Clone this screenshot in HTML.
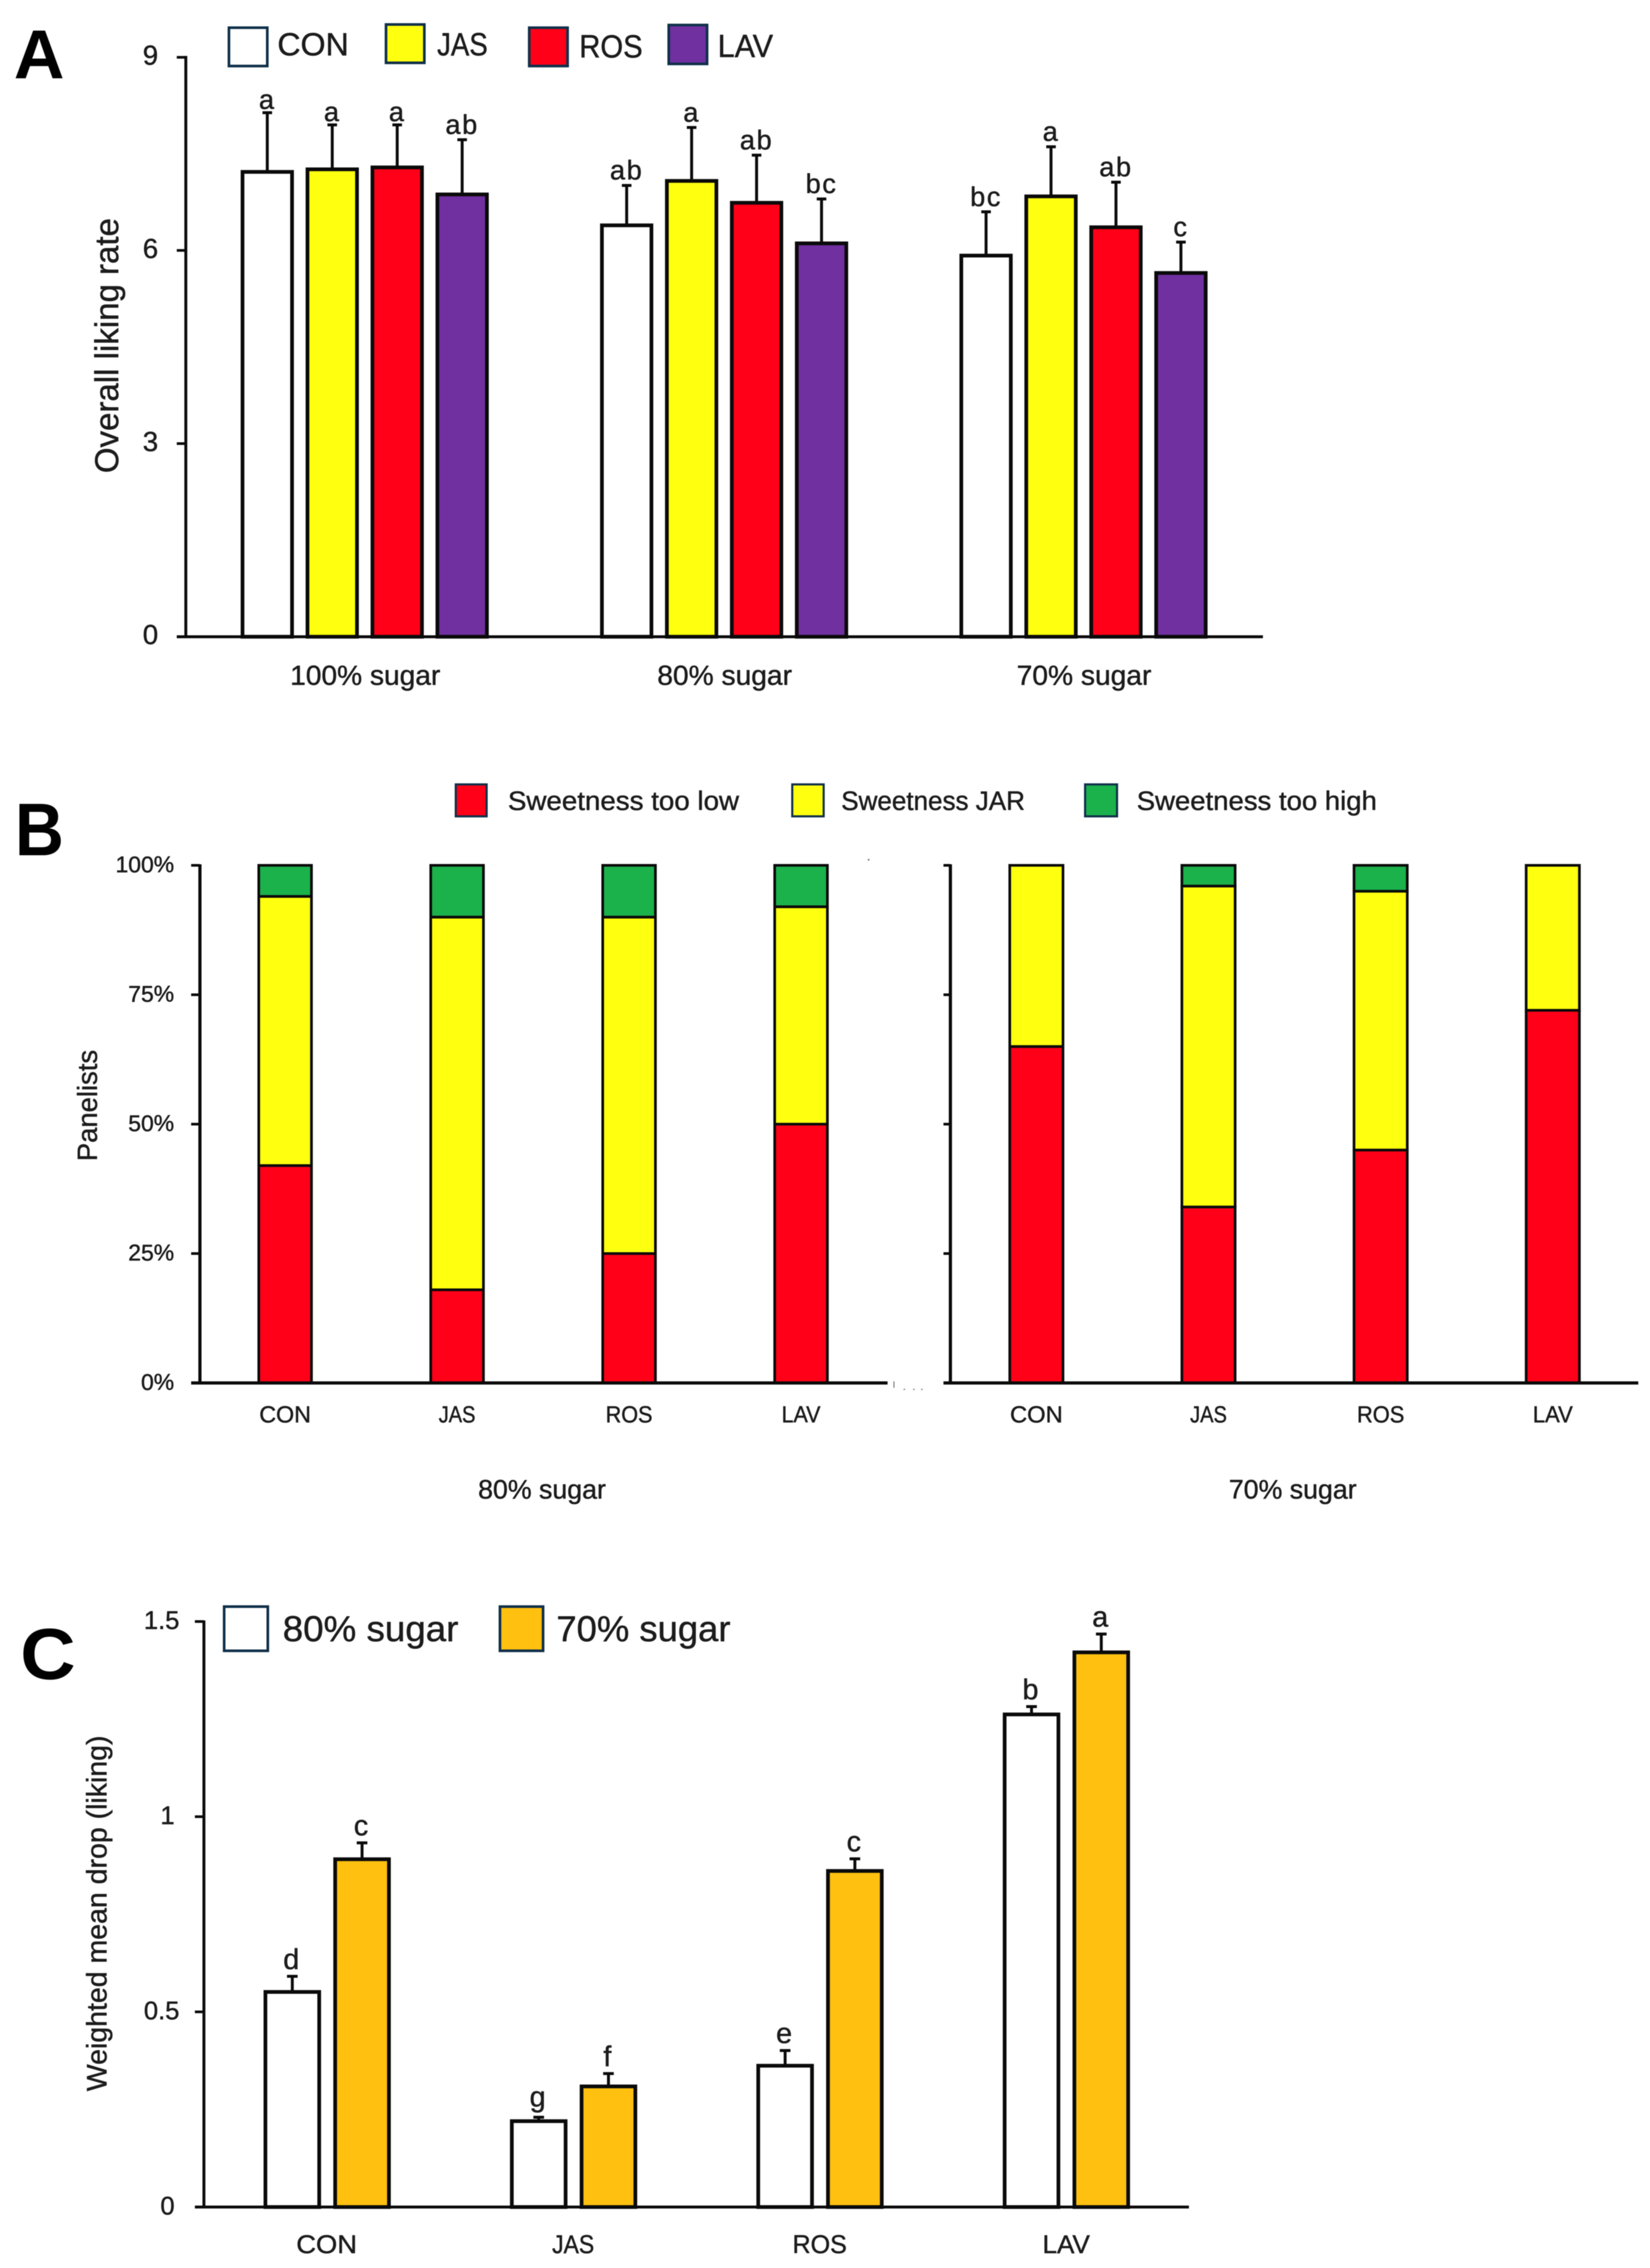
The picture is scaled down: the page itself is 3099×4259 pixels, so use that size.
<!DOCTYPE html>
<html lang="en">
<head>
<meta charset="utf-8">
<title>Sensory liking, sweetness and mean drop charts</title>
<style>
  html, body { margin: 0; padding: 0; background: #fff; }
  body { width: 3099px; height: 4259px; overflow: hidden; }
  svg { display: block; filter: blur(0.7px); }
  text { font-family: "Liberation Sans", sans-serif; fill: #1c1c1c; stroke: #1c1c1c; stroke-width: 0.8px; }
</style>
</head>
<body>
<svg id="figure" xmlns="http://www.w3.org/2000/svg" width="3099" height="4259" viewBox="0 0 3099 4259">
  <rect width="3099" height="4259" fill="#ffffff"/>

  <!-- Panel letters -->
  <text x="26" y="147" font-size="130" font-weight="700" textLength="95" lengthAdjust="spacingAndGlyphs" style="fill:#000;stroke:none">A</text>
  <text x="28" y="1606" font-size="140" font-weight="700" textLength="92" lengthAdjust="spacingAndGlyphs" style="fill:#000;stroke:none">B</text>
  <text x="38" y="3153" font-size="136" font-weight="700" textLength="104" lengthAdjust="spacingAndGlyphs" style="fill:#000;stroke:none">C</text>

  <!-- Panel A legend -->
  <g>
    <rect x="430" y="52" width="72" height="72" fill="#ffffff" stroke="#10304a" stroke-width="5"/>
    <text x="521" y="104" font-size="60" textLength="134" lengthAdjust="spacingAndGlyphs">CON</text>
    <rect x="725" y="46" width="72" height="72" fill="#ffff10" stroke="#10304a" stroke-width="5"/>
    <text x="821" y="104" font-size="60" textLength="95" lengthAdjust="spacingAndGlyphs">JAS</text>
    <rect x="994" y="52" width="72" height="72" fill="#ff0018" stroke="#10304a" stroke-width="5"/>
    <text x="1088" y="108" font-size="60" textLength="119" lengthAdjust="spacingAndGlyphs">ROS</text>
    <rect x="1256" y="47" width="72" height="73" fill="#7030a0" stroke="#10304a" stroke-width="5"/>
    <text x="1348" y="107" font-size="60" textLength="104" lengthAdjust="spacingAndGlyphs">LAV</text>
  </g>

  <!-- Panel B legend -->
  <g>
    <rect x="856" y="1473" width="58" height="60" fill="#ff0018" stroke="#10304a" stroke-width="4"/>
    <text x="954" y="1521" font-size="50" textLength="434" lengthAdjust="spacingAndGlyphs">Sweetness too low</text>
    <rect x="1488" y="1473" width="59" height="60" fill="#ffff10" stroke="#10304a" stroke-width="4"/>
    <text x="1580" y="1521" font-size="50" textLength="345" lengthAdjust="spacingAndGlyphs">Sweetness JAR</text>
    <rect x="2038" y="1473" width="60" height="60" fill="#1bb14b" stroke="#10304a" stroke-width="4"/>
    <text x="2135" y="1521" font-size="50" textLength="451" lengthAdjust="spacingAndGlyphs">Sweetness too high</text>
  </g>

  <!-- Panel C legend -->
  <g>
    <rect x="421" y="3017" width="82" height="83" fill="#ffffff" stroke="#10304a" stroke-width="5"/>
    <text x="531" y="3082" font-size="68" textLength="330" lengthAdjust="spacingAndGlyphs">80% sugar</text>
    <rect x="939" y="3017" width="81" height="83" fill="#ffc010" stroke="#10304a" stroke-width="5"/>
    <text x="1045" y="3082" font-size="68" textLength="327" lengthAdjust="spacingAndGlyphs">70% sugar</text>
  </g>

  <!-- Axis titles -->
  <text transform="translate(222 649) rotate(-90)" text-anchor="middle" font-size="62" textLength="479" lengthAdjust="spacingAndGlyphs">Overall liking rate</text>
  <text transform="translate(182 2076) rotate(-90)" text-anchor="middle" font-size="52" textLength="209" lengthAdjust="spacingAndGlyphs">Panelists</text>
  <text transform="translate(200 3593) rotate(-90)" text-anchor="middle" font-size="53" textLength="668" lengthAdjust="spacingAndGlyphs">Weighted mean drop (liking)</text>
  <text x="898" y="2814" font-size="50" textLength="240" lengthAdjust="spacingAndGlyphs">80% sugar</text>
  <text x="2308" y="2814" font-size="50" textLength="240" lengthAdjust="spacingAndGlyphs">70% sugar</text>

  <!-- Small scan specks -->
  <g fill="#777777">
    <rect x="1630" y="1613" width="3" height="3"/>
    <rect x="1678" y="2594" width="2" height="12"/>
    <rect x="1697" y="2608" width="3" height="2"/>
    <rect x="1715" y="2608" width="3" height="2"/>
    <rect x="1730" y="2608" width="3" height="2"/>
  </g>

  <g id="panel-a"></g>
  <g id="panel-b"></g>
  <g id="panel-c"></g>
</svg>

<script>
// ---- Panel A data ----
const groupsA = ['100% sugar', '80% sugar', '70% sugar'];
const seriesA = ['CON', 'JAS', 'ROS', 'LAV'];
const meansCon = [7.22, 6.39, 5.92];
const meansJas = [7.26, 7.08, 6.84];
const meansRos = [7.29, 6.74, 6.36];
const meansLav = [6.87, 6.11, 5.65];
const errCon = [0.92, 0.62, 0.68];
const errJas = [0.69, 0.83, 0.77];
const errRos = [0.66, 0.74, 0.70];
const errLav = [0.85, 0.69, 0.48];
const lettersCon = ['a', 'ab', 'bc'];
const lettersJas = ['a', 'a', 'a'];
const lettersRos = ['a', 'ab', 'ab'];
const lettersLav = ['ab', 'bc', 'c'];
const ticksA = [0, 3, 6, 9];

// ---- Panel B data ----
const categoriesB = ['CON', 'JAS', 'ROS', 'LAV'];
const low80 = [42, 18, 25, 50];
const jar80 = [52, 72, 65, 42];
const high80 = [6, 10, 10, 8];
const low70 = [65, 34, 45, 72];
const jar70 = [35, 62, 50, 28];
const high70 = [0, 4, 5, 0];
const ticksB = [0, 25, 50, 75, 100];

// ---- Panel C data ----
const categoriesC = ['CON', 'JAS', 'ROS', 'LAV'];
const drop80 = [0.551, 0.22, 0.362, 1.262];
const drop70 = [0.891, 0.309, 0.861, 1.421];
const dropErr80 = [0.04, 0.01, 0.039, 0.02];
const dropErr70 = [0.042, 0.033, 0.031, 0.047];
const letters80 = ['d', 'g', 'e', 'b'];
const letters70 = ['c', 'f', 'c', 'a'];
const ticksC = [0, 0.5, 1, 1.5];

const NS = 'http://www.w3.org/2000/svg';
function mk(parent, tag, attrs, txt) {
  const el = document.createElementNS(NS, tag);
  for (const k in attrs) el.setAttribute(k, attrs[k]);
  if (txt !== undefined) el.textContent = txt;
  parent.appendChild(el);
  return el;
}
function line(parent, x1, y1, x2, y2, w, name) {
  const el = mk(parent, 'line', { x1: x1, y1: y1, x2: x2, y2: y2, stroke: '#0a0a0a', 'stroke-width': w });
  
  
  return el;
}
function label(parent, x, y, size, anchor, txt, name, len) {
  const attrs = { x: x, y: y, 'font-size': size, 'text-anchor': anchor };
  if (len) { attrs.textLength = len; attrs.lengthAdjust = 'spacingAndGlyphs'; }
  const el = mk(parent, 'text', attrs, txt);
  
  
  return el;
}
function bar(parent, cx, w, top, bottom, fill, sw, name) {
  const el = mk(parent, 'rect', {
    x: cx - w / 2 + sw / 2, y: top, width: w - sw, height: bottom - top,
    fill: fill, stroke: '#0a0a0a', 'stroke-width': sw
  });
  
  
  return el;
}
function slug(s) { return String(s).toLowerCase().replace(/[^a-z0-9]+/g, '-'); }

// ---- Panel A ----
(function () {
  const g = document.getElementById('panel-a');
  const y = function (v) { return 1195.7 - v * 120.9; };
  const x = function (gi, si) { return 502 + gi * 675 + si * 122; };
  const fills = ['#ffffff', '#ffff10', '#ff0018', '#7030a0'];
  const means = [meansCon, meansJas, meansRos, meansLav];
  const errs = [errCon, errJas, errRos, errLav];
  const letters = [lettersCon, lettersJas, lettersRos, lettersLav];

  groupsA.forEach(function (group, gi) {
    seriesA.forEach(function (s, si) {
      const cx = x(gi, si);
      const top = y(means[si][gi]);
      const errTop = y(means[si][gi] + errs[si][gi]);
      const base = slug(group) + '-' + slug(s);
      line(g, cx, top, cx, errTop, 5.5, 'error-bar-' + base);
      line(g, cx - 9, errTop, cx + 9, errTop, 5.5, 'error-cap-' + base);
      bar(g, cx, 100, top, y(0), fills[si], 7, 'bar-' + base);
      const gap = (gi === 0 && si < 3) ? 7 : 11;
      const t = label(g, cx, errTop - gap, 51, 'middle', letters[si][gi], 'significance-' + base);
      t.setAttribute('letter-spacing', '3');
    });
    label(g, 686 + gi * 675, 1286, 52, 'middle', group, 'x-label-' + slug(group), gi === 0 ? 282 : 253);
  });
  line(g, 349, 105, 349, 1198, 5.5, 'y-axis-a');
  line(g, 332, y(0), 2372, y(0), 5.5, 'x-axis-a');
  ticksA.forEach(function (t) {
    line(g, 332, y(t), 349, y(t), 5, 'y-tick-a-' + t);
    label(g, 297, y(t) + 14, 52, 'end', String(t), 'y-tick-label-a-' + t);
  });
})();

// ---- Panel B ----
(function () {
  const g = document.getElementById('panel-b');
  const y = function (v) { return 2597 - v * 9.72; };
  const colors = ['#ff0018', '#ffff10', '#1bb14b'];
  const names = ['too-low', 'jar', 'too-high'];
  const leftW = [97, 69, 88, 73];
  const rightW = [99, 69, 89, 75];

  function stacks(x, low, jar, high, w, widths, tag) {
    categoriesB.forEach(function (c, i) {
      const cx = x(i);
      const parts = [low[i], jar[i], high[i]];
      let acc = 0;
      parts.forEach(function (p, k) {
        if (p <= 0) return;
        bar(g, cx, w, y(acc + p), y(acc), colors[k], 5, 'segment-' + tag + '-' + slug(c) + '-' + names[k]);
        acc += p;
      });
      label(g, cx, 2671, 44, 'middle', c, 'x-label-' + tag + '-' + slug(c), widths[i]);
    });
  }
  stacks(function (i) { return 535.5 + i * 323; }, low80, jar80, high80, 104, leftW, '80');
  stacks(function (i) { return 1946.5 + i * 323.3; }, low70, jar70, high70, 105, rightW, '70');

  line(g, 375.5, 1623, 375.5, 2600, 6, 'y-axis-b-left');
  line(g, 359, y(0), 1667, y(0), 6, 'x-axis-b-left');
  line(g, 1785, 1623, 1785, 2600, 6, 'y-axis-b-right');
  line(g, 1772, y(0), 3077, y(0), 6, 'x-axis-b-right');
  ticksB.forEach(function (t) {
    line(g, 359, y(t), 375, y(t), 5, 'y-tick-b-left-' + t);
    line(g, 1772, y(t), 1785, y(t), 5, 'y-tick-b-right-' + t);
    label(g, 327, y(t) + 13, 43, 'end', t + '%', 'y-tick-label-b-' + t);
  });
})();

// ---- Panel C ----
(function () {
  const g = document.getElementById('panel-c');
  const y = function (v) { return 4144.5 - v * 733; };
  const x = function (i, k) { return 614.5 + i * 462.8 + (k === 0 ? -65.5 : 65.5); };
  const widths = [114, 79, 102, 89];
  const fills = ['#ffffff', '#ffc010'];
  const vals = [drop80, drop70];
  const errs = [dropErr80, dropErr70];
  const lets = [letters80, letters70];
  const tags = ['80', '70'];

  categoriesC.forEach(function (c, i) {
    [0, 1].forEach(function (k) {
      const cx = x(i, k);
      const top = y(vals[k][i]);
      const errTop = y(vals[k][i] + errs[k][i]);
      const base = slug(c) + '-' + tags[k];
      line(g, cx, top, cx, errTop, 5.5, 'error-bar-' + base);
      line(g, cx - 10, errTop, cx + 10, errTop, 5.5, 'error-cap-' + base);
      bar(g, cx, 108, top, y(0), fills[k], 7, 'bar-' + base);
      const gap = lets[k][i] === 'g' ? 20 : 14;
      label(g, cx - 2, errTop - gap, 54, 'middle', lets[k][i], 'significance-' + base);
    });
    label(g, 615.5 + i * 463 - 2, 4231, 48, 'middle', c, 'x-label-c-' + slug(c), widths[i]);
  });
  line(g, 383, 3043, 383, 4147, 5.5, 'y-axis-c');
  line(g, 366, y(0), 2233, y(0), 5.5, 'x-axis-c');
  ticksC.forEach(function (t) {
    line(g, 366, y(t), 383, y(t), 5, 'y-tick-c-' + slug(t));
    label(g, Number.isInteger(t) ? 328 : 337, y(t) + 14, 48, 'end', String(t), 'y-tick-label-c-' + slug(t));
  });
})();
</script>
</body>
</html>
